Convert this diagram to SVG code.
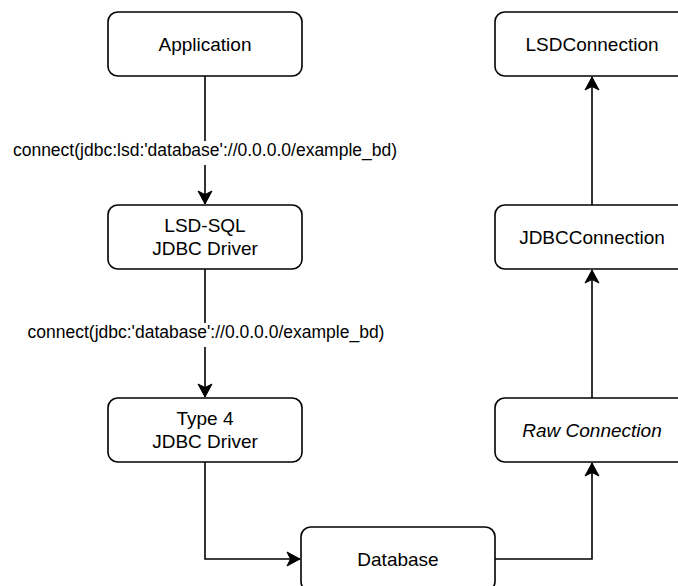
<svg xmlns="http://www.w3.org/2000/svg" width="678" height="586" viewBox="0 0 678 586">
  <defs>
    <marker id="arrow" markerUnits="userSpaceOnUse" markerWidth="16" markerHeight="16" viewBox="-14 -8 16 16" refX="0" refY="0" orient="auto">
      <path d="M0,0 L-13,-7 L-9.5,0 L-13,7 Z" fill="#000" stroke="#000" stroke-width="1" stroke-linejoin="miter"/>
    </marker>
    <style>
      .box { fill: #fff; stroke: #000; stroke-width: 1.6; }
      .txt { font-family: "Liberation Sans", Arial, Helvetica, sans-serif; font-size: 19px; fill: #000; text-anchor: middle; }
      .it { font-style: italic; }
      .lbl { font-family: "Liberation Sans", Arial, Helvetica, sans-serif; font-size: 17.5px; fill: #000; text-anchor: middle; }
      .edge { fill: none; stroke: #000; stroke-width: 1.6; marker-end: url(#arrow); }
      .lblbg { fill: #fff; }
    </style>
  </defs>

  <rect width="678" height="586" fill="#fff"/>

  <!-- connectors -->
  <g id="connectors">
    <path class="edge" d="M205,76 L205,204"/>
    <path class="edge" d="M205,269 L205,397"/>
    <path class="edge" d="M205,462 L205,559 L300,559"/>
    <path class="edge" d="M495,559 L592,559 L592,463"/>
    <path class="edge" d="M592,398 L592,270"/>
    <path class="edge" d="M592,205 L592,77"/>
    <rect class="lblbg" x="10" y="141" width="392" height="24"/>
    <text class="lbl" x="205" y="156">connect(jdbc:lsd:'database'://0.0.0.0/example_bd)</text>
    <rect class="lblbg" x="25" y="323" width="364" height="24"/>
    <text class="lbl" x="206" y="338">connect(jdbc:'database'://0.0.0.0/example_bd)</text>
  </g>

  <g id="application">
    <rect class="box" x="108" y="12" width="194" height="64" rx="9.6"/>
    <text class="txt" x="205" y="51">Application</text>
  </g>

  <g id="lsd-sql-driver">
    <rect class="box" x="108" y="205" width="194" height="64" rx="9.6"/>
    <text class="txt" x="205" y="232">LSD-SQL</text>
    <text class="txt" x="205" y="255">JDBC Driver</text>
  </g>

  <g id="type4-driver">
    <rect class="box" x="108" y="398" width="194" height="64" rx="9.6"/>
    <text class="txt" x="205" y="425">Type 4</text>
    <text class="txt" x="205" y="448">JDBC Driver</text>
  </g>

  <g id="database">
    <rect class="box" x="301" y="527" width="194" height="64" rx="9.6"/>
    <text class="txt" x="398" y="566">Database</text>
  </g>

  <g id="raw-connection">
    <rect class="box" x="495" y="398" width="194" height="64" rx="9.6"/>
    <text class="txt it" x="592" y="437">Raw Connection</text>
  </g>

  <g id="jdbc-connection">
    <rect class="box" x="495" y="205" width="194" height="64" rx="9.6"/>
    <text class="txt" x="592" y="244">JDBCConnection</text>
  </g>

  <g id="lsd-connection">
    <rect class="box" x="495" y="12" width="194" height="64" rx="9.6"/>
    <text class="txt" x="592" y="51">LSDConnection</text>
  </g>
</svg>
